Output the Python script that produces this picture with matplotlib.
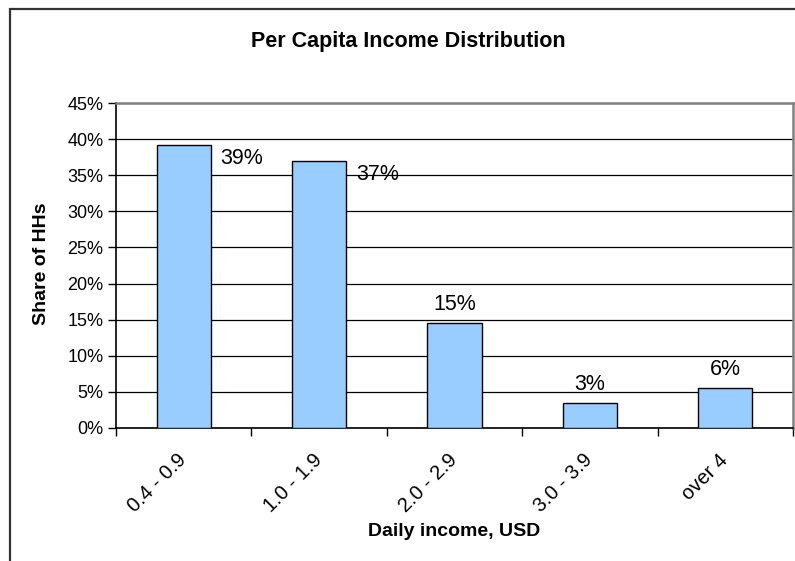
import matplotlib
matplotlib.use("Agg")
import matplotlib.pyplot as plt
from matplotlib.patches import Rectangle
from matplotlib.ticker import MultipleLocator, FuncFormatter, FixedLocator

categories = ["0.4 - 0.9", "1.0 - 1.9", "2.0 - 2.9", "3.0 - 3.9", "over 4"]
shares = [39.2, 37.0, 14.6, 3.5, 5.6]
value_labels = ["39%", "37%", "15%", "3%", "6%"]
title = "Per Capita Income Distribution"
xlabel = "Daily income, USD"
ylabel = "Share of HHs"

plt.rcParams['font.family'] = ['Liberation Sans', 'DejaVu Sans']

W, H = 795, 561
fig = plt.figure(figsize=(W / 100, H / 100), dpi=100)

# outer chart frame (left and top edges visible, rest cropped)
fig.patches.append(Rectangle((10 / W, -0.1), 1.2, 1 - 8.5 / H + 0.1,
                             transform=fig.transFigure, fill=False,
                             edgecolor="#333333", linewidth=1.6, zorder=0))

left, right, top, bottom = 116, 793, 103, 428
ax = fig.add_axes([left / W, 1 - bottom / H, (right - left) / W, (bottom - top) / H])

x = list(range(len(categories)))
ax.bar(x, shares, width=0.4, color="#99CCFF", edgecolor="black", linewidth=1.0, zorder=3)

ax.set_xlim(-0.5, len(categories) - 0.5)
ax.set_ylim(0, 45)

ax.yaxis.set_major_locator(MultipleLocator(5))
ax.yaxis.set_major_formatter(FuncFormatter(lambda v, p: f"{v:.0f}%"))
ax.grid(axis="y", color="black", linewidth=0.9, zorder=1)
ax.set_axisbelow(True)

# category boundary ticks (major) and centred labels (minor)
ax.xaxis.set_major_locator(FixedLocator([i - 0.5 for i in range(len(categories) + 1)]))
ax.xaxis.set_major_formatter(FuncFormatter(lambda v, p: ""))
ax.xaxis.set_minor_locator(FixedLocator(x))
ax.set_xticklabels(categories, minor=True)
ax.tick_params(axis="x", which="major", length=6, width=1, color="black", direction="out")
ax.tick_params(axis="x", which="minor", length=0, pad=21, labelsize=14.5)
for lab in ax.get_xticklabels(minor=True):
    lab.set_rotation(45)
    lab.set_rotation_mode("anchor")
    lab.set_ha("right")
    lab.set_va("center")
ax.tick_params(axis="y", length=6, width=1, color="black", direction="out", pad=3, labelsize=13)

for s in ["left", "bottom"]:
    ax.spines[s].set_color("black")
    ax.spines[s].set_linewidth(1.2)
for s in ["top", "right"]:
    ax.spines[s].set_color("#808080")
    ax.spines[s].set_linewidth(1.8)

# data labels
for i, (v, t) in enumerate(zip(shares, value_labels)):
    if i < 2:
        ax.annotate(t, (i + 0.2, v), xytext=(7, -10), textcoords="offset points",
                    ha="left", va="center", fontsize=15.5, zorder=4)
    else:
        ax.annotate(t, (i, v), xytext=(0, 13), textcoords="offset points",
                    ha="center", va="center", fontsize=15.5, zorder=4)

fig.text(408 / W, 1 - 41 / H, title, ha="center", va="center", fontsize=15.5, fontweight="bold")
fig.text(41 / W, 1 - 264 / H, ylabel, ha="center", va="center", rotation=90,
         fontsize=14, fontweight="bold")
fig.text(454 / W, 1 - 532 / H, xlabel, ha="center", va="center", fontsize=14, fontweight="bold")

fig.savefig("out.png", dpi=100)
